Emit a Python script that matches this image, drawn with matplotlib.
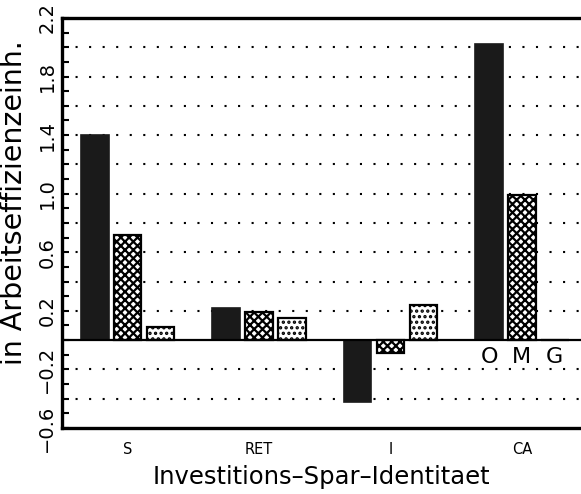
import matplotlib
matplotlib.use("Agg")
import matplotlib.pyplot as plt
import numpy as np
from matplotlib.ticker import FixedLocator, MultipleLocator

categories = ["S", "RET", "I", "CA"]
series_names = ["O", "M", "G"]
values_O = [1.40, 0.22, -0.42, 2.02]
values_M = [0.72, 0.19, -0.09, 0.99]
values_G = [0.09, 0.15, 0.24, 0.0]
y_ticks = [-0.6, -0.2, 0.2, 0.6, 1.0, 1.4, 1.8, 2.2]
grid_levels = [-0.4, -0.2, 0.2, 0.4, 0.6, 0.8, 1.0, 1.2, 1.4, 1.6, 1.8, 2.0]

plt.rcParams['font.family'] = ['DejaVu Sans']
plt.rcParams['hatch.linewidth'] = 1.6

fig = plt.figure(figsize=(5.81, 4.94), dpi=100)
ax = fig.add_axes([0.1067, 0.1336, 0.8933, 0.83])

x = np.arange(len(categories))
width = 0.21
offset = 0.25

for lvl in grid_levels:
    ax.axhline(lvl, color='black', linewidth=1.5, linestyle=(0, (1, 5.5)), zorder=1)
ax.axhline(0, color='black', linewidth=1.6, zorder=4)

ax.bar(x - offset, values_O, width, color='#1a1a1a', edgecolor='#1a1a1a', linewidth=1.2, zorder=3)
ax.bar(x, values_M, width, color='white', edgecolor='black', hatch='xxxx', linewidth=1.6, zorder=3)
ax.bar(x + offset, values_G, width, color='white', edgecolor='black', hatch='...', linewidth=1.6, zorder=3)

# series labels under CA group
for i, name in enumerate(series_names):
    ax.text(3 + (i - 1) * offset, -0.045, name, ha='center', va='top', fontsize=16, zorder=5)

ax.set_xlim(-0.5, 3.45)
ax.set_ylim(-0.6, 2.2)
ax.set_xticks(x)
ax.set_xticklabels(categories, fontsize=10.5)
ax.tick_params(axis='x', length=0, pad=10)

ax.yaxis.set_major_locator(FixedLocator(y_ticks))
ax.yaxis.set_minor_locator(MultipleLocator(0.1))
ax.set_yticklabels([f"{t:.1f}".replace("-", "\u2212") for t in y_ticks], rotation=90, va='center', fontsize=14)
ax.tick_params(axis='y', which='both', direction='in', length=5, width=1.5, pad=4)

for s in ['left', 'top', 'bottom']:
    ax.spines[s].set_linewidth(2.4)
ax.spines['right'].set_visible(False)

ax.set_ylabel("in Arbeitseffizienzeinh.", fontsize=20.5)
ax.yaxis.set_label_coords(-0.066, 0.55)
ax.set_xlabel("Investitions\u2013Spar\u2013Identitaet", fontsize=17.5, labelpad=6)

fig.savefig("out.png", dpi=100)
